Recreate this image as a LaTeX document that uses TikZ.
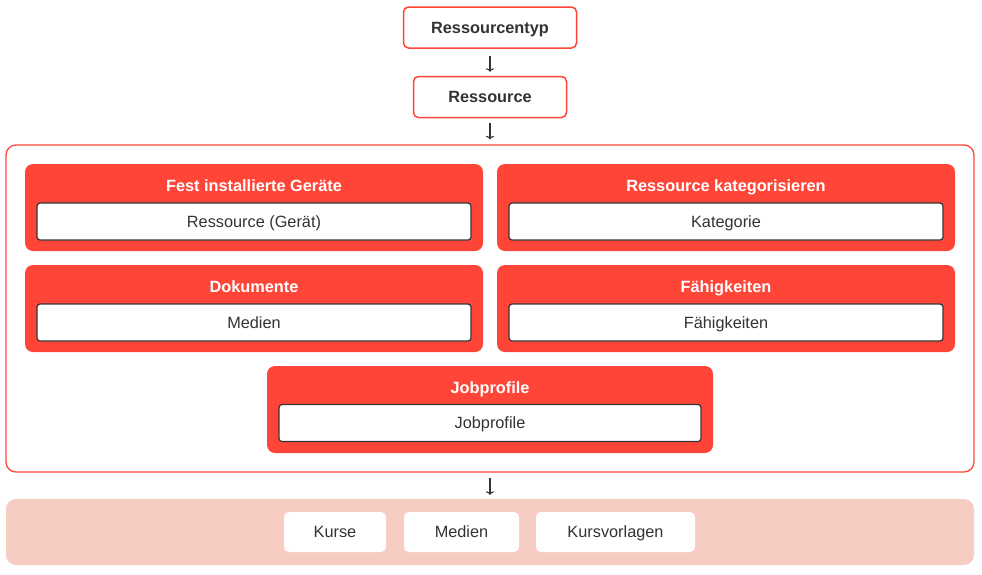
\documentclass[tikz,border=0pt]{standalone}
\usepackage{fontspec}
\setmainfont{Liberation Sans}
\usetikzlibrary{positioning, arrows.meta}
\definecolor{myred}{HTML}{FF4538}
\definecolor{mysalmon}{HTML}{F7CDC3}
\definecolor{mygray}{HTML}{333333}

\begin{document}
\begin{tikzpicture}[x=1pt, y=-1pt,
    every node/.style = {inner sep=0pt, text height=11.8pt, text depth=0pt, text=mygray, font=\fontsize{16.3}{19}\selectfont},
    topbox/.style = {draw=myred, line width=1.5pt, fill=white, rounded corners=5pt, minimum height=41pt, font=\fontsize{16.3}{19}\selectfont\bfseries},
    frame/.style = {draw=myred, line width=1.3pt, rounded corners=10pt, minimum width=968pt, minimum height=327pt},
    card/.style = {fill=myred, rounded corners=8pt, minimum width=458pt, minimum height=87pt},
    head/.style = {text=white, font=\fontsize{16.3}{19}\selectfont\bfseries},
    inbox/.style = {draw=mygray, line width=1.2pt, fill=white, rounded corners=3pt, minimum width=434pt, minimum height=37pt},
    band/.style = {fill=mysalmon, rounded corners=10pt, minimum width=968pt, minimum height=66pt},
    pill/.style = {fill=white, rounded corners=5pt, minimum height=40pt},
    arr/.style = {-{To[length=3.5pt, width=8pt]}, line width=1.1pt, draw=mygray}]
    \useasboundingbox (0,0) rectangle (982,574);

    % Kopf
    \node[topbox, minimum width=173pt] (typ) at (490,27.5) {Ressourcentyp};
    \node[topbox, minimum width=153pt] (res) at (490,97) {Ressource};

    % Rahmen mit Karten
    \node[frame] (outer) at (490,308.5) {};

    \node[card] (geraete) at (254,207.5) {};
    \node[head] (geraeteT) at (254,186) {Fest installierte Geräte};
    \node[inbox] (geraeteI) at (254,221.5) {Ressource (Gerät)};

    \node[card] (kat) at (726,207.5) {};
    \node[head] (katT) at (726,186) {Ressource kategorisieren};
    \node[inbox] (katI) at (726,221.5) {Kategorie};

    \node[card] (dok) at (254,308.5) {};
    \node[head] (dokT) at (254,287) {Dokumente};
    \node[inbox] (dokI) at (254,322.5) {Medien};

    \node[card] (faeh) at (726,308.5) {};
    \node[head] (faehT) at (726,287) {Fähigkeiten};
    \node[inbox] (faehI) at (726,322.5) {Fähigkeiten};

    \node[card, minimum width=446pt] (job) at (490,409.5) {};
    \node[head] (jobT) at (490,388) {Jobprofile};
    \node[inbox, minimum width=422pt] (jobI) at (490,423) {Jobprofile};

    % Ergebnis
    \node[band] (ziel) at (490,532) {};
    \node[pill, minimum width=102pt] (kurse) at (335,532) {Kurse};
    \node[pill, minimum width=115pt] (medien) at (461.5,532) {Medien};
    \node[pill, minimum width=159pt] (vorlagen) at (615.5,532) {Kursvorlagen};

    % Pfeile
    \draw[arr, shorten <=7pt, shorten >=4pt] (typ) -- (res);
    \draw[arr, shorten <=5pt, shorten >=5pt] (res) -- (outer);
    \draw[arr, shorten <=5pt, shorten >=4pt] (outer) -- (ziel);
\end{tikzpicture}
\end{document}
